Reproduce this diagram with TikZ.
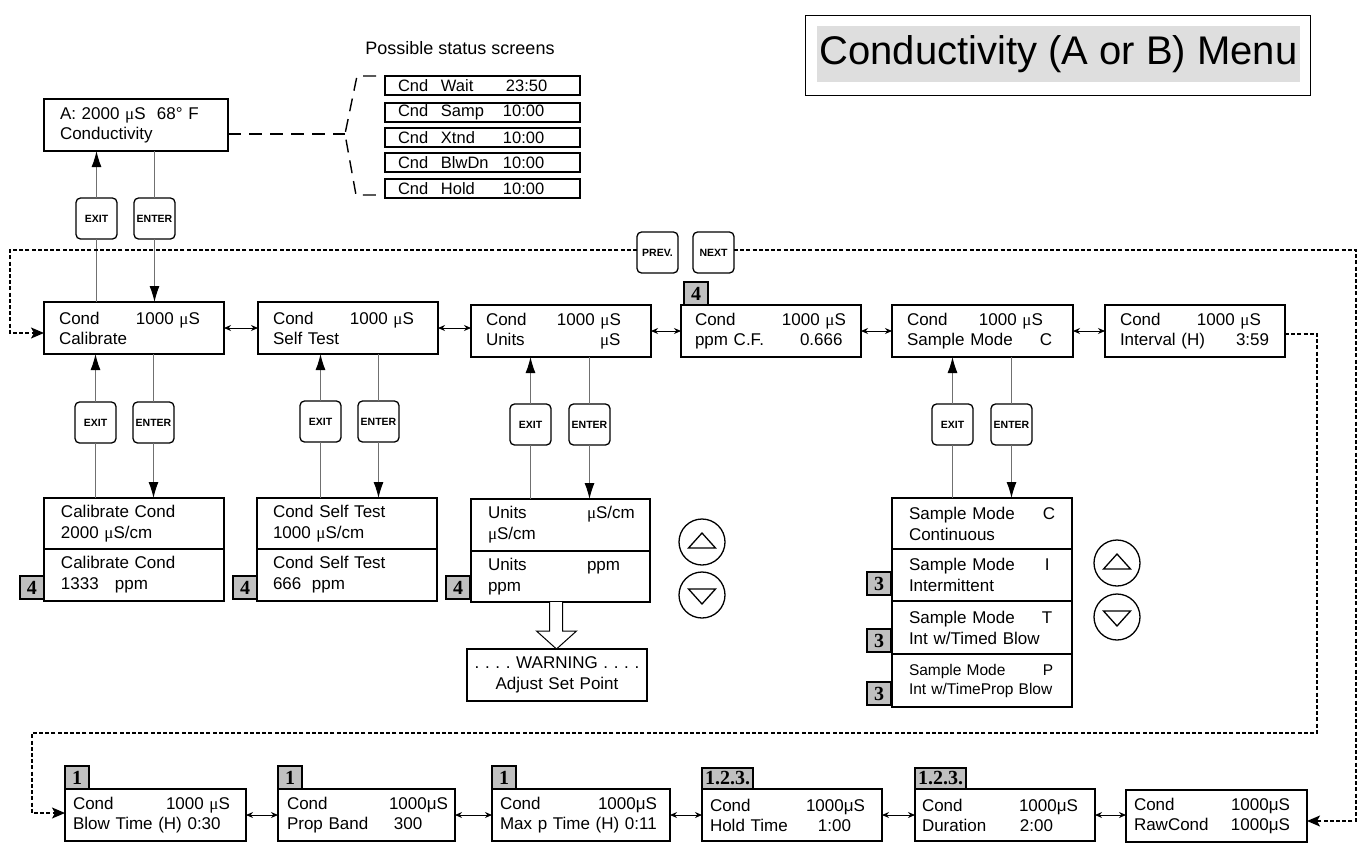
\documentclass[tikz,border=0pt]{standalone}
\usepackage{fontspec}
\setmainfont{Liberation Sans}
\newfontfamily\serifface{Liberation Serif}
\usetikzlibrary{arrows.meta,calc}
\newcommand\smu{{\serifface μ}}
\newcommand\lcdtab[3]{\hspace*{#1pt}\makebox[#2pt][l]{#3}}
\newcommand\lcdpad[1]{\hspace*{#1pt}}
\definecolor{titlegray}{HTML}{DEDEDE}
\definecolor{badgegray}{HTML}{C0C0C0}
\definecolor{linegray}{HTML}{707070}
\tikzset{
 lcd/.style={draw, line width=1.4pt, inner sep=0pt, outer sep=0pt, anchor=north west, align=left, text width=#1, minimum height=52pt, font=\fontsize{17}{20}\selectfont},
 lcd/.default=180pt,
 subfont/.style={font=\fontsize{17}{21}\selectfont},
 stat/.style={draw, line width=1.3pt, inner sep=0pt, outer sep=0pt, anchor=north west, align=left, text width=195pt, minimum height=19pt, font=\fontsize{16.5}{18}\selectfont},
 key/.style={draw, line width=1.3pt, rounded corners=4.5pt, inner sep=0pt, outer sep=0pt, anchor=north west, minimum width=41pt, minimum height=41pt, font=\bfseries\fontsize{10.5}{12}\selectfont},
 badge/.style={draw, line width=1.2pt, fill=badgegray, inner xsep=3pt, inner ysep=0pt, outer sep=0pt, minimum width=24pt, minimum height=23pt, font=\serifface\bfseries\fontsize{20}{20}\selectfont},
 feed/.style={draw=linegray, line width=1pt},
 feedarrow/.style={feed, -{Latex[length=16pt,width=10pt,color=black]}},
 bidir/.style={draw=black, line width=0.9pt, {Stealth[length=7pt,width=6pt]}-{Stealth[length=7pt,width=6pt]}},
 loopline/.style={draw=black, line width=1.4pt, dash pattern=on 4pt off 2.2pt},
 looparrow/.style={loopline, -{Stealth[length=13pt,width=11pt,inset=3pt]}},
 statdash/.style={draw=black, line width=1.4pt, dash pattern=on 13pt off 8pt},
 updown/.style={draw, circle, line width=1.3pt, minimum size=46pt, inner sep=0pt},
 tri/.style={draw, line width=1.3pt, line join=miter}
}
\frenchspacing
\begin{document}
\frenchspacing
\begin{tikzpicture}[x=1pt,y=-1pt]
\useasboundingbox (0,0) rectangle (1362,844);
\fill[white] (0,0) rectangle (1362,844);

% title
\node[draw, line width=1.3pt, minimum width=505pt, minimum height=80pt, inner sep=0pt, anchor=north west] (titleframe) at (805,15) {};
\node[fill=titlegray, minimum width=483pt, minimum height=56pt, inner sep=0pt, font=\fontsize{40}{40}\selectfont] (title) at (1058.5,54) {Conductivity (A or B) Menu};

% status display
\node[lcd=184pt] (A) at (44,99) {\lcdpad{16}A: 2000 \smu S\ \ 68° F\\\lcdpad{16}Conductivity};
\node[font=\fontsize{18}{20}\selectfont] (pss) at (460,48) {Possible status screens};
\node[stat] (s1) at (385,76) {\lcdtab{13}{43}{Cnd}\makebox[65pt][l]{Wait}23:50};
\node[stat] (s2) at (385,103) {\lcdtab{13}{43}{Cnd}\makebox[62pt][l]{Samp}10:00};
\node[stat] (s3) at (385,128) {\lcdtab{13}{43}{Cnd}\makebox[62pt][l]{Xtnd}10:00};
\node[stat] (s4) at (385,153) {\lcdtab{13}{43}{Cnd}\makebox[62pt][l]{BlwDn}10:00};
\node[stat] (s5) at (385,179) {\lcdtab{13}{43}{Cnd}\makebox[62pt][l]{Hold}10:00};
\draw[statdash] (A.east |- 0,134) -- (345,134);
\draw[statdash] (376,76) -- (357,76) -- (345,134) -- (356,195) -- (378,195);

% keys
\node[key] (exA) at (76,198) {EXIT};
\node[key] (enA) at (134,198) {ENTER};
\node[key] (prev) at (637,232) {PREV.};
\node[key] (next) at (693,232) {NEXT};

% main row
\node[lcd] (cal) at (44,302) {\lcdtab{15}{77}{Cond}1000 \smu S\\\lcdpad{15}Calibrate};
\node[lcd] (self) at (258,302) {\lcdtab{15}{77}{Cond}1000 \smu S\\\lcdpad{15}Self Test};
\node[lcd] (units) at (471,305) {\lcdtab{15}{71}{Cond}1000 \smu S\\\lcdtab{15}{114}{Units}\smu S};
\node[lcd] (ppm) at (681,305) {\lcdtab{14}{87}{Cond}1000 \smu S\\\lcdtab{14}{105}{ppm C.F.}0.666};
\node[lcd=181pt] (sample) at (892,305) {\lcdtab{15}{72}{Cond}1000 \smu S\\\lcdtab{15}{133}{Sample Mode}C};
\node[lcd] (interval) at (1105,305) {\lcdtab{15}{77}{Cond}1000 \smu S\\\lcdtab{15}{116}{Interval (H)}3:59};
\node[badge, anchor=south west] (b4ppm) at ($(ppm.north west)+(3,0)$) {4};

% keys under main row
\node[key] (exC) at (75,402) {EXIT};
\node[key] (enC) at (133,402) {ENTER};
\node[key] (exS) at (300,401) {EXIT};
\node[key] (enS) at (358,401) {ENTER};
\node[key] (exU) at (510,404) {EXIT};
\node[key] (enU) at (569,404) {ENTER};
\node[key] (exM) at (932,404) {EXIT};
\node[key] (enM) at (991,404) {ENTER};

% sub screens
\node[lcd, subfont, minimum height=51pt] (cal1) at (44,498) {\lcdpad{17}Calibrate Cond\\\lcdpad{17}2000 \smu S/cm};
\node[lcd, subfont] (cal2) at (44,549) {\lcdpad{17}Calibrate Cond\\\lcdtab{17}{54}{1333}ppm};
\node[lcd, subfont, minimum height=51pt] (self1) at (257,498) {\lcdpad{16}Cond Self Test\\\lcdpad{16}1000 \smu S/cm};
\node[lcd, subfont] (self2) at (257,549) {\lcdpad{16}Cond Self Test\\\lcdtab{16}{39}{666}ppm};
\node[lcd=179pt, subfont] (units1) at (471,499) {\lcdtab{17}{99}{Units}\smu S/cm\\\lcdpad{17}\smu S/cm};
\node[lcd=179pt, subfont, minimum height=51pt] (units2) at (471,551) {\lcdtab{17}{99}{Units}ppm\\\lcdpad{17}ppm};
\node[lcd, subfont, align=center] (warn) at (467,649) {. . . . WARNING . . . .\\Adjust Set Point};
\node[lcd, subfont, minimum height=51pt] (sam1) at (892,498) {\lcdtab{17}{134}{Sample Mode}C\\\lcdpad{17}Continuous};
\node[lcd, subfont] (sam2) at (892,549) {\lcdtab{17}{136}{Sample Mode}I\\\lcdpad{17}Intermittent};
\node[lcd, subfont, minimum height=53pt] (sam3) at (892,601) {\lcdtab{17}{133}{Sample Mode}T\\\lcdpad{17}Int w/Timed Blow};
\node[lcd, minimum height=53pt, font=\fontsize{15.5}{19}\selectfont] (sam4) at (892,654) {\lcdtab{17}{134}{Sample Mode}P\\\lcdpad{17}Int w/TimeProp Blow};

\node[badge, anchor=south east] (b4cal) at ($(cal2.south west)+(0,-2)$) {4};
\node[badge, anchor=south east] (b4self) at ($(self2.south west)+(0,-2)$) {4};
\node[badge, anchor=south east] (b4units) at ($(units2.south west)+(-1,-3)$) {4};
\node[badge, anchor=south east] (b3a) at ($(sam2.south west)+(-1,-6)$) {3};
\node[badge, anchor=south east] (b3b) at ($(sam3.south west)+(-1,-2)$) {3};
\node[badge, anchor=south east] (b3c) at ($(sam4.south west)+(-1,-2)$) {3};

% up/down keys
\node[updown] (upU) at (702,542) {};
\node[updown] (dnU) at (702,595) {};
\node[updown] (upM) at (1117,563) {};
\node[updown] (dnM) at (1117,617) {};
\foreach \c in {upU,upM}{\draw[tri] ($(\c.center)+(-13.5,6)$) -- ++(27,0) -- ++(-13.5,-15) -- cycle;}
\foreach \c in {dnU,dnM}{\draw[tri] ($(\c.center)+(-13.5,-6)$) -- ++(27,0) -- ++(-13.5,15) -- cycle;}

% bottom row
\node[lcd=181pt] (blow) at (65,789) {\lcdtab{8}{93}{Cond}1000 \smu S\\\lcdpad{8}Blow Time (H) 0:30};
\node[lcd=177pt] (prop) at (278,789) {\lcdtab{9}{102}{Cond}1000μS\\\lcdtab{9}{107}{Prop Band}300};
\node[lcd=178pt] (maxp) at (492,789) {\lcdtab{8}{98}{Cond}1000μS\\\lcdpad{8}Max p Time (H) 0:11};
\node[lcd] (hold) at (702,789) {\lcdtab{8}{96}{Cond}1000μS\\\lcdtab{8}{108}{Hold Time}1:00};
\node[lcd] (dur) at (915,789) {\lcdtab{7}{97}{Cond}1000μS\\\lcdtab{7}{98}{Duration}2:00};
\node[lcd=181pt] (raw) at (1126,790) {\lcdtab{8}{97}{Cond}1000μS\\\lcdtab{8}{97}{RawCond}1000μS};
\node[badge, anchor=south west] (b1a) at (blow.north west) {1};
\node[badge, anchor=south west] (b1b) at (prop.north west) {1};
\node[badge, anchor=south west] (b1c) at (maxp.north west) {1};
\node[badge, anchor=south west, minimum height=21pt] (b123a) at (hold.north west) {1.2.3.};
\node[badge, anchor=south west, minimum height=21pt] (b123b) at (dur.north west) {1.2.3.};

% EXIT / ENTER connectors
\draw[feedarrow] (exA.north) -- (exA.north |- A.south);
\draw[feed] (A.south -| enA.north) -- (enA.north);
\draw[feedarrow] (enA.south) -- (enA.south |- cal.north);
\draw[feed] (cal.north -| exA.south) -- (exA.south);
\foreach \ex/\en/\up/\dn in {exC/enC/cal/cal1, exS/enS/self/self1, exU/enU/units/units1, exM/enM/sample/sam1}{
  \draw[feedarrow] (\ex.north) -- (\ex.north |- \up.south);
  \draw[feed] (\up.south -| \en.north) -- (\en.north);
  \draw[feedarrow] (\en.south) -- (\en.south |- \dn.north);
  \draw[feed] (\dn.north -| \ex.south) -- (\ex.south);
}

% neighbours
\draw[bidir] (cal.east) -- (cal.east -| self.west);
\draw[bidir] (self.east) -- (self.east -| units.west);
\draw[bidir] (units.east) -- (units.east -| ppm.west);
\draw[bidir] (ppm.east) -- (ppm.east -| sample.west);
\draw[bidir] (sample.east) -- (sample.east -| interval.west);
\draw[bidir] (blow.east) -- (blow.east -| prop.west);
\draw[bidir] (prop.east) -- (prop.east -| maxp.west);
\draw[bidir] (maxp.east) -- (maxp.east -| hold.west);
\draw[bidir] (hold.east) -- (hold.east -| dur.west);
\draw[bidir] (dur.east) -- (dur.east -| raw.west);

% warning hollow arrow
\draw[line width=1pt, fill=white, line join=miter] ($(units2.south)+(-11,0)$) -- ++(0,29) -- ++(-13,0) -- ++(20,18) -- ++(20,-18) -- ++(-14,0) -- ++(0,-29);

% PREV / NEXT loops
\coordinate (lpL) at (10,250);
\draw[looparrow] (prev.west |- lpL) -- (lpL) -- (10,333) -- (cal.west |- 10,333);
\draw[looparrow] (next.east |- lpL) -- (1356,250) -- (1356,821) -- (raw.east |- 0,821);
\draw[looparrow] (interval.east |- 0,334) -- (1317,334) -- (1317,733) -- (32,733) -- (32,813) -- (blow.west |- 0,813);
\end{tikzpicture}
\end{document}
